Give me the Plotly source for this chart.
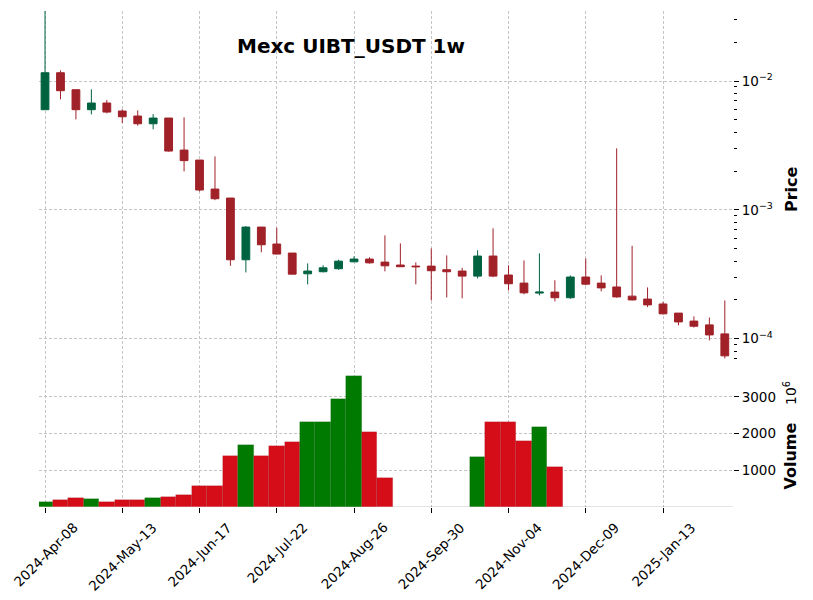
import plotly.graph_objects as go
from plotly.subplots import make_subplots

# Weekly OHLC (USDT), one candle per week starting 2024-04-08
opens = [0.00599, 0.0116, 0.00856, 0.00599, 0.00675, 0.00585, 0.00535, 0.00466, 0.00516, 0.00291,
         0.002435, 0.00145, 0.001235, 0.00041, 0.000735, 0.000543, 0.000462, 0.000319, 0.000331, 0.000349,
         0.000395, 0.000415, 0.000393, 0.000373, 0.000366, 0.000366, 0.000343, 0.000335, 0.000306, 0.000438,
         0.000312, 0.00027, 0.000226, 0.00023, 0.000208, 0.000301, 0.00027, 0.000252, 0.000214, 0.000203,
         0.000186, 0.000158, 0.000137, 0.000128, 0.000109]
highs = [0.035, 0.0121, 0.0086, 0.00862, 0.00712, 0.00603, 0.00592, 0.00554, 0.00516, 0.00523,
         0.002435, 0.0026, 0.001235, 0.000748, 0.000735, 0.000726, 0.000462, 0.000384, 0.000371, 0.00041,
         0.000436, 0.000428, 0.000634, 0.000549, 0.000391, 0.000502, 0.000443, 0.000355, 0.000485, 0.000719,
         0.000371, 0.000405, 0.00046, 0.000284, 0.00031, 0.00042, 0.00031, 0.003, 0.000526, 0.00025,
         0.000193, 0.000158, 0.000149, 0.000146, 0.000198]
lows = [0.00595, 0.00721, 0.00504, 0.00551, 0.00561, 0.00472, 0.0045, 0.00422, 0.00283, 0.00199,
        0.00139, 0.00119, 0.000368, 0.000327, 0.000468, 0.000452, 0.000316, 0.000264, 0.000327, 0.000343,
        0.000393, 0.000382, 0.000333, 0.000361, 0.000264, 0.000198, 0.000209, 0.000206, 0.000294, 0.0003,
        0.000237, 0.000221, 0.000217, 0.000195, 0.000204, 0.00026, 0.000233, 0.000208, 0.000198, 0.000176,
        0.000154, 0.000127, 0.000122, 0.000097, 0.0000703]
closes = [0.0116, 0.00841, 0.00599, 0.00675, 0.00574, 0.00528, 0.00466, 0.00516, 0.00286, 0.00241,
          0.001425, 0.00122, 0.00041, 0.000735, 0.000536, 0.000454, 0.000317, 0.000335, 0.000355, 0.0004,
          0.000415, 0.000388, 0.000368, 0.000362, 0.000362, 0.000337, 0.000331, 0.000306, 0.000438, 0.000306,
          0.000267, 0.000227, 0.00023, 0.000208, 0.000301, 0.000265, 0.000248, 0.000211, 0.0002, 0.000183,
          0.000156, 0.000135, 0.000125, 0.000107, 0.0000736]
# Weekly volume in millions
volumes = [131, 186, 241, 214, 131, 186, 186, 241, 268, 323,
           570, 570, 1392, 1693, 1392, 1666, 1775, 2323, 2323, 2953,
           3556, 2049, 789, 0, 0, 0, 0, 0, 1364, 2323,
           2323, 1803, 2186, 1090, 0, 0, 0, 0, 0, 0,
           0, 0, 0, 0, 0]

tick_positions = [0, 5, 10, 15, 20, 25, 30, 35, 40]
tick_labels = ["2024-Apr-08", "2024-May-13", "2024-Jun-17", "2024-Jul-22", "2024-Aug-26",
               "2024-Sep-30", "2024-Nov-04", "2024-Dec-09", "2025-Jan-13"]

UP, DOWN = "#006340", "#A02128"
VUP, VDOWN = "#007a00", "#d50d18"

idx = list(range(len(opens)))
vcolors = [VUP if c >= o else VDOWN for o, c in zip(opens, closes)]

fig = make_subplots(rows=2, cols=1, shared_xaxes=False, vertical_spacing=0.0)

fig.add_trace(go.Candlestick(
    x=idx, open=opens, high=highs, low=lows, close=closes,
    increasing=dict(line=dict(color=UP, width=1), fillcolor=UP),
    decreasing=dict(line=dict(color=DOWN, width=1), fillcolor=DOWN),
    whiskerwidth=0, showlegend=False, hoverinfo="skip"), row=1, col=1)

fig.add_trace(go.Bar(
    x=idx, y=volumes, width=1.0,
    marker=dict(color=vcolors, line=dict(color="rgba(0,0,0,0.12)", width=0.6)),
    showlegend=False, hoverinfo="skip"), row=2, col=1)

grid = dict(showgrid=True, gridcolor="#c4c4c4", gridwidth=0.8, griddash="3px,2px")
font = dict(family="DejaVu Sans", size=13.5, color="#000")

decades = [1e-5, 1e-4, 1e-3, 1e-2]
minor_vals = [m * d for d in decades for m in range(2, 10)]

xrange_ = [-0.39, 44.53]
fig.update_xaxes(range=xrange_, tickvals=tick_positions,
                 zeroline=False, showline=False, showticklabels=False, **grid)
fig.update_xaxes(ticks="", rangeslider_visible=False, row=1, col=1)
fig.update_xaxes(ticks="outside", ticklen=5, tickcolor="#000", matches="x", row=2, col=1)

fig.update_yaxes(type="log", side="right", range=[-4.181, -1.4565],
                 tickvals=[1e-4, 1e-3, 1e-2],
                 ticktext=["10<sup>−4</sup>", "10<sup>−3</sup>", "10<sup>−2</sup>"],
                 ticks="outside", ticklen=5, tickcolor="#000", tickfont=font,
                 minor=dict(tickvals=minor_vals, ticks="outside", ticklen=2.5, tickcolor="#000", showgrid=False),
                 zeroline=False, showline=False, domain=[0.2923, 1.0], **grid, row=1, col=1)
fig.update_yaxes(side="right", range=[0, 3869], tickvals=[1000, 2000, 3000],
                 ticks="outside", ticklen=5, tickcolor="#000", tickfont=font,
                 zeroline=False, showline=False, domain=[0.0, 0.2863], **grid, row=2, col=1)

annotations = [
    dict(text="<b>Mexc UIBT_USDT 1w</b>", xref="paper", yref="paper", x=0.4496, y=0.929,
         showarrow=False, font=dict(family="DejaVu Sans", size=20, color="#000"),
         xanchor="center", yanchor="middle"),
    dict(text="<b>Price</b>", xref="paper", yref="paper", x=1.0836, y=0.641, textangle=-90,
         showarrow=False, font=dict(family="DejaVu Sans", size=16, color="#000"),
         xanchor="center", yanchor="middle"),
    dict(text="<b>Volume</b>", xref="paper", yref="paper", x=1.083, y=0.103, textangle=-90,
         showarrow=False, font=dict(family="DejaVu Sans", size=16, color="#000"),
         xanchor="center", yanchor="middle"),
    dict(text="10<sup>6</sup>", xref="paper", yref="paper", x=1.083, y=0.229, textangle=-90,
         showarrow=False, font=dict(family="DejaVu Sans", size=14, color="#000"),
         xanchor="center", yanchor="middle"),
]
# rotated date labels, centred under their ticks (matplotlib style)
for pos, lab in zip(tick_positions, tick_labels):
    annotations.append(dict(text=lab, xref="x2", yref="paper", x=pos, y=-0.02,
                            textangle=-45, showarrow=False, font=font,
                            xanchor="center", yanchor="top"))

fig.update_layout(
    width=813, height=600,
    margin=dict(l=39, r=80, t=11, b=93),
    paper_bgcolor="white", plot_bgcolor="white",
    boxgap=0.28, bargap=0,
    font=font,
    annotations=annotations,
)

fig.write_html("out.html")
